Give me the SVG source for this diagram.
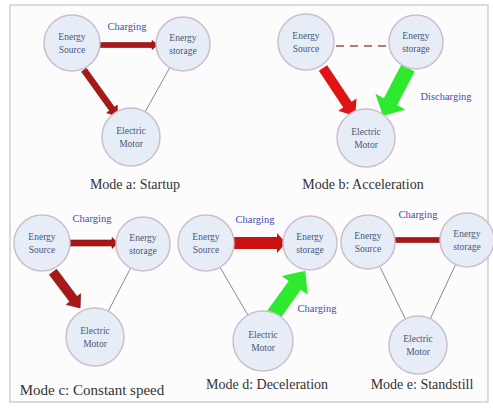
<svg xmlns="http://www.w3.org/2000/svg" width="493" height="409" viewBox="0 0 493 409" font-family="'Liberation Serif','Times New Roman','DejaVu Serif',serif">
<style>
.nd{fill:#e7edf7;stroke:#cbbfcb;stroke-width:1.5}
.nt{font-size:9.5px;fill:#4a5878;text-anchor:middle}
.lb{font-size:10.5px;fill:#4a4ab0;text-anchor:middle}
.cap{font-size:14px;fill:#333;text-anchor:middle}
.ln{stroke:#8a8a8a;stroke-width:1;fill:none}
.dr{fill:#a81818;stroke:#7a1010;stroke-width:0.6}
.br{fill:#e01414}
.gr{fill:#2eea2e}
</style>
<rect x="0" y="0" width="493" height="409" fill="#fff"/>
<rect x="10" y="5" width="478" height="397" fill="#fdfcfd" stroke="#d0d0d0" stroke-width="1.5"/>

<g id="connectors">
<!-- mode a -->
<line class="ln" x1="169.8" y1="67.6" x2="145.2" y2="111.7"/>
<polygon class="dr" points="0,-2.5 52,-2.5 52,-4.5 58,0 52,4.5 52,2.5 0,2.5" transform="translate(100,45)"/>
<polygon class="dr" points="0,-3 48,-3 48,-6.5 57,0 48,6.5 48,3 0,3" transform="translate(84,70) rotate(54.3)"/>
<!-- mode b -->
<line x1="336" y1="46" x2="390" y2="46" stroke="#a05040" stroke-width="1.3" stroke-dasharray="8,6"/>
<polygon class="br" points="0,-5 44,-5 44,-11 58,0 44,11 44,5 0,5" transform="translate(323,68) rotate(56.3)"/>
<polygon class="gr" points="0,-7.5 38,-7.5 38,-17 54,0 38,17 38,7.5 0,7.5" transform="translate(408,68) rotate(117.5)"/>
<!-- mode c -->
<line class="ln" x1="130.6" y1="268" x2="108.3" y2="311.2"/>
<polygon class="dr" points="0,-3 42,-3 42,-5.5 48,0 42,5.5 42,3 0,3" transform="translate(70,243)"/>
<polygon class="dr" points="0,-4.5 34,-4.5 34,-9 45,0 34,9 34,4.5 0,4.5" transform="translate(53,272) rotate(53)"/>
<!-- mode d -->
<line class="ln" x1="220" y1="267.2" x2="248.4" y2="316"/>
<polygon fill="#c81212" points="0,-6 45,-6 45,-10 54,0 45,10 45,6 0,6" transform="translate(232,243)"/>
<polygon class="gr" points="0,-7.5 39,-7.5 39,-16 57,0 39,16 39,7.5 0,7.5" transform="translate(272,317) rotate(-54.3)"/>
<!-- mode e -->
<line class="ln" x1="380.2" y1="267.2" x2="405.3" y2="318.9"/>
<line class="ln" x1="455.6" y1="264.5" x2="430.3" y2="318.7"/>
<polygon class="dr" points="0,-2.5 48,-2.5 48,-4.5 54,0 48,4.5 48,2.5 0,2.5" transform="translate(393,240)"/>
</g>

<g id="labels">
<text class="lb" x="127" y="30">Charging</text>
<text class="lb" x="446" y="100">Discharging</text>
<text class="lb" x="92" y="222">Charging</text>
<text class="lb" x="255" y="223">Charging</text>
<text class="lb" x="317" y="312">Charging</text>
<text class="lb" x="418" y="218">Charging</text>
</g>

<g id="a-source"><circle class="nd" cx="72" cy="43" r="28"/><text class="nt" x="72" y="40">Energy</text><text class="nt" x="72" y="53">Source</text></g>
<g id="a-storage"><circle class="nd" cx="183" cy="44" r="27"/><text class="nt" x="183" y="41">Energy</text><text class="nt" x="183" y="54">storage</text></g>
<g id="a-motor"><circle class="nd" cx="131" cy="137" r="29"/><text class="nt" x="131" y="134">Electric</text><text class="nt" x="131" y="147">Motor</text></g>
<text class="cap" x="135" y="189">Mode a: Startup</text>

<g id="b-source"><circle class="nd" cx="306" cy="42" r="28"/><text class="nt" x="306" y="39">Energy</text><text class="nt" x="306" y="52">Source</text></g>
<g id="b-storage"><circle class="nd" cx="416" cy="42" r="27"/><text class="nt" x="416" y="39">Energy</text><text class="nt" x="416" y="52">storage</text></g>
<g id="b-motor"><circle class="nd" cx="366" cy="138" r="29"/><text class="nt" x="366" y="135">Electric</text><text class="nt" x="366" y="148">Motor</text></g>
<text class="cap" x="363" y="189">Mode b: Acceleration</text>

<g id="c-source"><circle class="nd" cx="42" cy="243" r="28"/><text class="nt" x="42" y="240">Energy</text><text class="nt" x="42" y="253">Source</text></g>
<g id="c-storage"><circle class="nd" cx="143" cy="244" r="27"/><text class="nt" x="143" y="241">Energy</text><text class="nt" x="143" y="254">storage</text></g>
<g id="c-motor"><circle class="nd" cx="95" cy="337" r="29"/><text class="nt" x="95" y="334">Electric</text><text class="nt" x="95" y="347">Motor</text></g>
<text class="cap" x="92" y="395" style="font-size:15px">Mode c: Constant speed</text>

<g id="d-source"><circle class="nd" cx="206" cy="243" r="28"/><text class="nt" x="206" y="240">Energy</text><text class="nt" x="206" y="253">Source</text></g>
<g id="d-storage"><circle class="nd" cx="310" cy="243" r="27"/><text class="nt" x="310" y="240">Energy</text><text class="nt" x="310" y="253">storage</text></g>
<g id="d-motor"><circle class="nd" cx="263" cy="341" r="30"/><text class="nt" x="263" y="338">Electric</text><text class="nt" x="263" y="351">Motor</text></g>
<text class="cap" x="267" y="389">Mode d: Deceleration</text>

<g id="e-source"><circle class="nd" cx="368" cy="242" r="27"/><text class="nt" x="368" y="239">Energy</text><text class="nt" x="368" y="252">Source</text></g>
<g id="e-storage"><circle class="nd" cx="467" cy="240" r="27"/><text class="nt" x="467" y="237">Energy</text><text class="nt" x="467" y="250">storage</text></g>
<g id="e-motor"><circle class="nd" cx="418" cy="345" r="29"/><text class="nt" x="418" y="342">Electric</text><text class="nt" x="418" y="355">Motor</text></g>
<text class="cap" x="422" y="389">Mode e: Standstill</text>
</svg>
